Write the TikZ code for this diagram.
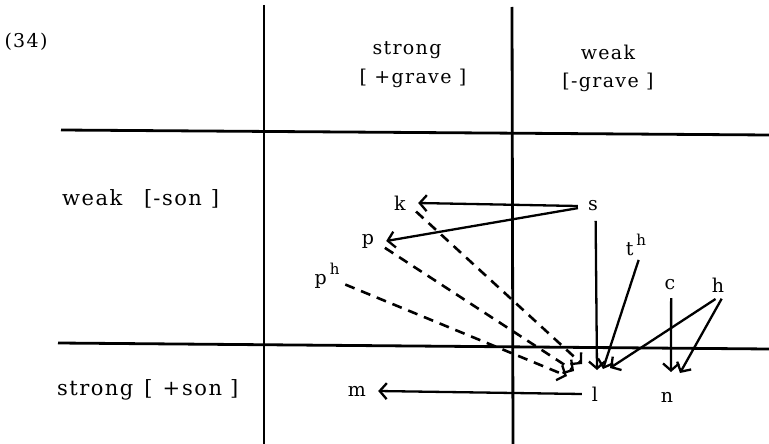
\documentclass[tikz,border=0pt]{standalone}
\usepackage{fontspec}
\setmainfont{DejaVu Serif}[LetterSpace=7]
\usetikzlibrary{arrows.meta}
\begin{document}
\begin{tikzpicture}[x=1pt,y=-1pt,
  txt/.style={inner sep=0pt,font=\fontsize{19}{23}\selectfont},
  rowtxt/.style={inner sep=0pt,anchor=west,font=\fontsize{21}{25}\selectfont},
  lab/.style={circle,inner sep=0pt,font=\fontsize{19}{23}\selectfont},
  grid/.style={line width=2.8pt},
  arr/.style={line width=2.3pt,-{Straight Barb[length=7pt,width=16pt,line width=2.3pt]}},
  darr/.style={arr,line width=2.6pt,dash pattern=on 10pt off 7pt}]
\useasboundingbox (0,0) rectangle (769,444);
% grid lines
\draw[grid] (264,5) -- (264,444);
\draw[grid] (512,7) -- (513,444);
\draw[grid] (61,130) -- (769,135);
\draw[grid] (58,343) -- (769,349);
% headings
\node[txt] (num) at (26,42) {(34)};
\node[txt] (hs) at (407,50) {strong};
\node[txt] (hsg) at (413,78) {[ +grave ]};
\node[txt] (hw) at (608,52) {weak};
\node[txt] (hwg) at (608,82) {[-grave ]};
\node[rowtxt] (rw) at (62,199) {weak\hspace{22pt}[\hspace{1pt}-son\hspace{9pt}]};
\node[rowtxt] (rs) at (57,390) {strong\hspace{11pt}[\hspace{10pt}+\hspace{2pt}son\hspace{8pt}]};
% segments
\node[lab,minimum size=36pt] (k) at (400,203) {k};
\node[lab,minimum size=30pt] (s) at (593,206) {s};
\node[lab,minimum size=36pt] (p) at (368,241) {p};
\node[lab,minimum size=40pt] (ph) at (327,276) {p\hspace{3pt}\raisebox{0.55em}{\fontsize{15}{15}\selectfont h}};
\node[lab,minimum size=26pt] (th) at (636,245) {t\hspace{3pt}\raisebox{0.55em}{\fontsize{15}{15}\selectfont h}};
\node[lab,minimum size=26pt] (c) at (670,285) {c};
\node[lab,minimum size=28pt] (h) at (718,285) {h};
\node[lab,minimum size=42pt] (m) at (357,391) {m};
\node[lab,minimum size=26pt] (l) at (595,394) {l};
\node[lab,minimum size=26pt] (n) at (667,397) {n};
% arrow targets
\coordinate (tk) at (582,364);
\coordinate (tp) at (574,371);
\coordinate (tph) at (567,376);
\coordinate (ts) at (597,370);
\coordinate (tth) at (603,369);
\coordinate (thl) at (610,368);
\coordinate (tc) at (671,372);
\coordinate (thr) at (680,373);
% arrows
\draw[arr] (s.west) -- (k.east);
\draw[arr] (s.-172) -- (p.east);
\draw[arr] (s.-80) -- (ts);
\draw[darr] (k.-28) -- (tk);
\draw[darr] (p.-22) -- (tp);
\draw[darr] (ph.-25) -- (tph);
\draw[arr] (th.-80) -- (tth);
\draw[arr] (h.-100) -- (thl);
\draw[arr] (c.-85) -- (tc);
\draw[arr] (h.-75) -- (thr);
\draw[arr] (l.west) -- (m.east);
\end{tikzpicture}
\end{document}
